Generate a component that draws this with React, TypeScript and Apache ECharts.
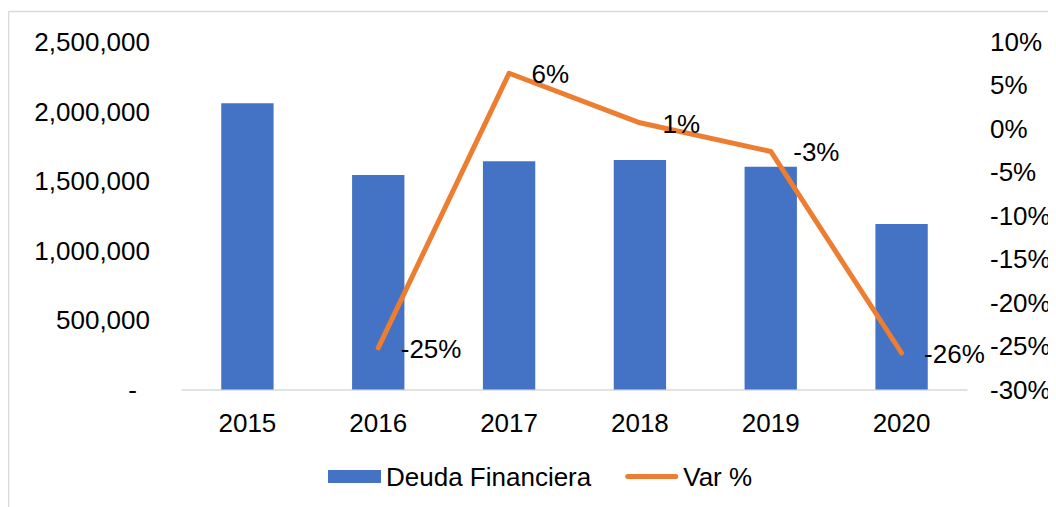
import React, { useEffect, useRef } from "react";
import * as echarts from "echarts";

const categories = ["2015", "2016", "2017", "2018", "2019", "2020"];
const deudaFinanciera = [2059000, 1543000, 1642000, 1651000, 1603000, 1190000];
const varPct: (number | null)[] = [null, -25.2, 6.4, 0.7, -2.6, -25.8];
const leftTicks = { min: 0, max: 2500000, interval: 500000 };
const rightTicks = { min: -30, max: 10, interval: 5 };

const FONT = "'Liberation Sans', Arial, sans-serif";
const BLUE = "#4472C4";
const ORANGE = "#ED7D31";

export default function App() {
  const ref = useRef<HTMLDivElement>(null);
  useEffect(() => {
    if (!ref.current) return;
    const chart = echarts.init(ref.current, undefined, { renderer: "svg" });
    chart.setOption({
      animation: false,
      textStyle: { fontFamily: FONT },
      grid: { left: 174, right: 89, top: 34, bottom: 117.5, containLabel: false },
      graphic: [
        { type: "line", shape: { x1: 0.5, y1: 3.5, x2: 1048, y2: 3.5 }, style: { stroke: "#D9D9D9", lineWidth: 1.5 } },
        { type: "line", shape: { x1: 0.5, y1: 3.5, x2: 0.5, y2: 499 }, style: { stroke: "#D9D9D9", lineWidth: 1.5 } },
      ],
      legend: {
        left: 315,
        top: 450.5,
        itemWidth: 53,
        itemHeight: 13,
        itemGap: 34,
        textStyle: { fontSize: 26, color: "#000", fontFamily: FONT },
        data: [
          { name: "Deuda Financiera", icon: "rect" },
          {
            name: "Var %",
            icon: "path://M2.5,0 L50.5,0 A2.5,2.5 0 0 1 50.5,5 L2.5,5 A2.5,2.5 0 0 1 2.5,0 Z",
          },
        ],
      },
      xAxis: {
        type: "category",
        data: categories,
        axisLine: { show: true, lineStyle: { color: "#D9D9D9", width: 1.5 } },
        axisTick: { show: false },
        axisLabel: { fontSize: 26, color: "#000", margin: 20, fontFamily: FONT },
      },
      yAxis: [
        {
          type: "value",
          min: leftTicks.min,
          max: leftTicks.max,
          interval: leftTicks.interval,
          splitLine: { show: false },
          axisLine: { show: false },
          axisTick: { show: false },
          axisLabel: {
            fontSize: 26,
            color: "#000",
            margin: 32,
            fontFamily: FONT,
            formatter: (v: number) =>
              v === 0 ? "{d|-}" : v.toLocaleString("en-US"),
            rich: { d: { fontSize: 26, color: "#000", padding: [0, 13, 0, 0], fontFamily: FONT } },
          },
        },
        {
          type: "value",
          min: rightTicks.min,
          max: rightTicks.max,
          interval: rightTicks.interval,
          splitLine: { show: false },
          axisLine: { show: false },
          axisTick: { show: false },
          axisLabel: {
            fontSize: 26,
            color: "#000",
            margin: 23,
            fontFamily: FONT,
            formatter: (v: number) => `${Math.round(v)}%`,
          },
        },
      ],
      series: [
        {
          name: "Deuda Financiera",
          type: "bar",
          data: deudaFinanciera,
          barWidth: "40%",
          itemStyle: { color: BLUE },
        },
        {
          name: "Var %",
          type: "line",
          yAxisIndex: 1,
          data: varPct,
          symbol: "circle",
          symbolSize: 1,
          showSymbol: true,
          itemStyle: { color: ORANGE },
          lineStyle: { color: ORANGE, width: 5, cap: "round", join: "round" },
          label: {
            show: true,
            position: "right",
            distance: 22,
            offset: [0, 1],
            fontSize: 26,
            color: "#000",
            fontFamily: FONT,
            formatter: (p: any) => `${Math.round(p.value)}%`,
          },
        },
      ],
    });
    return () => chart.dispose();
  }, []);
  return <div ref={ref} style={{ width: 1048, height: 499 }} />;
}
